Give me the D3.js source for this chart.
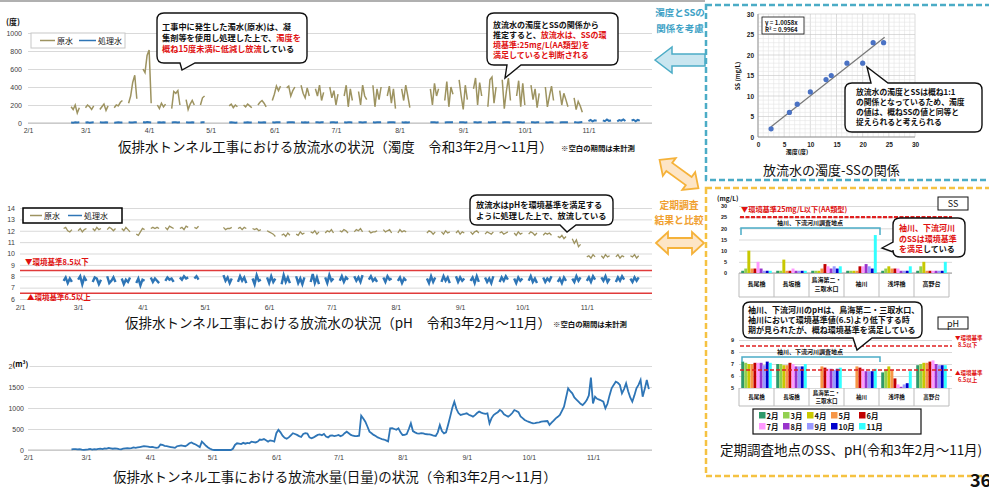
<!DOCTYPE html>
<html>
<head>
<meta charset="utf-8">
<script src="https://cdn.jsdelivr.net/npm/d3@7"></script>
<style>
  body { margin: 0; background: #fff; }
  svg { display: block; font-family: "Noto Sans CJK JP", "Noto Sans", sans-serif; }
</style>
</head>
<body>
<svg id="chart" width="989" height="487"></svg>
<script>
// ---------- data ----------
// Daily measurements, one row per week starting on Monday 2021-02-22.
// Weekday rows hold Mon–Fri, null rows are weeks without measurement.
const firstMonday = "2021-02-22";
const monthTickDates = ["2021-02-01","2021-03-01","2021-04-01","2021-05-01","2021-06-01",
                        "2021-07-01","2021-08-01","2021-09-01","2021-10-01","2021-11-01"];

// turbidity (度) of raw water
const turbidityRawWeeks = [
  [180,150,200,110,170],[170,200,180,150,190],[150,180,210,140,190],[170,200,190,230,250],
  [220,300,450,530,270],[600,560,750,810,220],[200,160,220,180,210],[160,350,330,360,200],
  [260,150,210,250,200],[200,280,300,null,null],null,[190,210,170,200,180],
  [200,180,210,190,170],[200,230,250,220,180],[250,320,410,360,410],[390,410,300,360,400],
  [420,330,280,390,300],[380,300,420,250,340],[400,280,360,200,320],[300,420,180,380,250],
  [350,200,420,300,260],[420,180,380,260,400],[300,410,220,380,160],[380,250,420,300,170],
  null,[380,200,440,300,380],[250,460,180,400,320],[480,300,150,420,260],
  [380,500,200,450,300],[180,480,510,220,400],[480,160,350,500,250],[300,470,180,440,200],
  [420,260,380,170,330],[400,180,300,410,250],[360,200,330,260,180],[280,150,240,190,120],
  null,null,null,null
];
// turbidity (度) of treated water
const turbidityTreatedWeeks = [
  [6,4,8,5,7],[5,7,4,6,8],[7,5,6,9,5],[4,6,8,5,6],[8,6,5,7,9],[9,7,10,8,6],[6,8,5,7,6],
  [5,7,9,6,8],[7,5,6,8,5],[6,8,7,null,null],null,[5,7,6,4,6],[6,5,7,6,5],[7,6,5,8,6],
  [8,6,9,7,8],[6,9,7,8,6],[7,5,8,6,9],[8,7,6,9,7],[6,8,7,5,8],[9,6,8,7,6],[7,9,6,8,7],
  [8,6,9,7,8],[6,8,7,9,6],[7,6,8,6,7],null,[8,7,9,6,8],[6,9,7,8,7],[9,7,8,6,9],
  [7,8,6,9,7],[8,6,9,7,8],[6,8,7,9,6],[9,7,8,6,8],[7,9,6,8,7],[8,6,7,9,6],[6,8,9,7,8],
  [9,7,6,8,10],[22,35,18,30,25],[30,20,38,24,28],[18,32,26,40,22],[28,36,20,34,26]
];
// pH of raw water
const phRawWeeks = [
  [12.2,12.3,12.0,11.9,12.1],[12.0,12.2,11.9,12.1,12.2],[12.2,12.0,12.3,12.1,12.2],
  [12.1,12.3,12.2,12.0,12.2],[12.2,12.0,12.3,12.1,11.9],[11.7,11.6,11.9,12.2,12.1],
  [12.2,12.3,12.2,12.3,12.2],[12.3,12.1,12.4,12.3,12.2],[12.2,12.3,12.1,12.4,12.3],
  [12.3,12.2,12.4,null,null],null,[12.3,12.1,12.2,12.2,12.3],[12.2,12.3,12.1,12.3,12.2],
  [12.2,12.1,12.2,12.0,12.1],[12.0,11.9,11.8,11.7,11.5],[11.6,11.7,11.5,11.8,11.6],
  [11.7,11.6,11.9,11.7,11.8],[11.9,11.8,12.0,11.7,11.9],[11.8,12.0,11.9,12.1,11.8],
  [12.0,11.9,12.1,12.0,11.8],[11.9,12.1,12.0,12.2,11.9],[12.0,11.8,11.9,11.9,12.0],
  [12.1,11.9,12.0,12.1,11.8],[11.8,12.1,11.9,12.0,11.9],null,[11.8,12.0,11.9,11.7,11.9],
  [11.9,11.7,12.0,11.8,11.9],[11.8,12.0,11.7,11.9,11.8],[11.9,11.7,11.9,12.0,11.8],
  [11.7,11.9,11.8,11.7,11.9],[11.8,11.9,11.7,11.8,11.9],[11.8,11.6,11.9,11.7,11.8],
  [11.7,11.9,11.8,11.6,11.8],[11.6,11.8,11.7,11.8,11.6],[11.5,11.4,11.6,11.3,11.5],
  [11.3,10.9,11.2,10.6,10.8],[9.7,9.8,9.6,9.9,9.7],[9.8,9.6,9.9,9.7,9.8],
  [9.7,9.9,9.6,9.8,9.7],[9.8,9.7,9.9,9.6,9.8]
];
// pH of treated water
const phTreatedWeeks = [
  [7.6,7.9,7.4,7.8,7.5],[7.7,8.0,7.3,7.9,7.6],[7.5,7.9,7.8,7.3,7.7],[8.0,7.4,7.6,7.9,7.5],
  [7.8,7.3,7.7,7.5,7.9],[7.4,7.8,7.2,7.7,7.6],[7.9,7.5,7.8,7.6,7.4],[7.6,7.9,7.7,7.8,7.5],
  [7.9,7.7,8.0,7.8,7.9],[7.8,8.0,7.7,null,null],null,[8.1,7.6,7.9,7.4,7.8],
  [7.5,8.0,7.6,7.9,7.4],[7.8,7.3,8.1,7.6,7.7],[7.9,7.4,8.0,7.5,7.8],[7.3,8.1,7.5,7.9,7.4],
  [8.0,7.4,7.8,7.3,7.9],[7.5,8.2,7.4,7.9,7.3],[7.9,7.4,8.1,7.6,7.8],[7.6,8.0,7.5,7.9,7.7],
  [8.0,7.6,7.9,7.5,8.1],[7.7,8.0,7.6,7.8,7.5],[7.9,7.5,8.0,7.7,7.8],[7.6,7.9,7.4,7.8,7.6],
  null,[7.8,7.4,8.0,7.5,7.9],[7.5,8.0,7.6,7.9,7.4],[8.0,7.5,7.9,7.6,7.8],[7.6,7.9,7.4,8.0,7.5],
  [7.9,7.5,7.8,7.4,8.0],[7.5,7.9,7.6,8.0,7.7],[7.8,7.4,7.9,7.6,7.8],[7.6,8.0,7.5,7.8,7.4],
  [7.9,7.5,7.8,7.6,8.0],[7.5,7.8,7.4,7.9,7.6],[7.8,7.5,8.0,7.6,7.9],[7.6,7.9,7.5,8.0,7.7],
  [7.9,7.6,8.0,7.5,7.8],[7.5,7.9,7.6,8.0,7.7],[7.8,7.5,7.9,7.6,7.9]
];
// daily discharge volume (m³), Mon–Sun
const dischargeWeeks = [
  [15,20,20,15,20,10,5],[10,15,25,10,20,15,25],[30,20,40,35,50,40,30],[40,30,20,15,30,40,45],
  [40,45,60,50,60,70,80],[90,85,80,70,75,60,50],[60,130,120,100,90,80,70],[60,50,90,100,110,100,90],
  [120,160,180,150,130,100,70],[200,150,100,60,30,10,0],[0,0,0,0,0,0,0],[0,30,120,160,150,140,170],
  [150,170,160,200,190,180,200],[250,240,260,230,200,230,220],[200,400,480,420,340,290,270],
  [300,350,400,380,360,330,310],[380,400,390,300,280,300,330],[360,370,350,380,320,300,340],
  [345,330,340,360,330,350,400],[436,400,360,340,330,333,340],[817,750,674,560,436,400,360],
  [333,300,280,260,250,230,205],[516,520,500,480,516,420,357],[360,380,500,635,450,420,397],
  [390,400,397,380,375,373,360],[340,333,420,595,450,397,420],[600,794,1000,1150,980,880,833],
  [850,860,873,840,820,794,830],[880,913,890,870,860,873,635],[760,833,870,900,952,920,850],
  [820,794,830,880,952,930,900],[800,760,714,690,670,650,635],[640,650,660,675,680,685,690],
  [595,650,700,754,790,833,930],[1032,1250,1468,1400,1349,1250,1200],[1150,1100,1071,1120,1190,1300,1722],
  [1110,1270,1220,1200,1180,1150,992],[1100,1300,1468,1550,1627,1600,1548],[1349,1450,1587,1400,1250,1150,1300],
  [1468,1550,1667,1270,1450,1667,1450]
];

// turbidity vs SS
const scatterTurbidity = [2.5, 6, 7.5, 10, 13, 14, 17, 20, 22, 24];
const scatterSS        = [2, 6, 8, 11, 14, 15, 18, 18, 23, 23];
const regressionSlope = 1.0058;

// periodic survey sites
const sites = ["長尾橋", "長坂橋", "鳥海第二・三取水口", "袖川", "浅坪橋", "高野台"];
const months = ["2月","3月","4月","5月","6月","7月","8月","9月","10月","11月"];
const monthColors = ["#2f9a6a","#92d050","#c8c800","#f79646","#c00000",
                     "#ff99ff","#9933cc","#9999ff","#0000cc","#33ffff"];
const ssBySite = [
  [1, 2, 10, 2, 2, 5, 2, 1, 1, 1],
  [1, 1, 6, 1, 1, 2, 1, 1, 1, 1],
  [1, 1, 1, 2, 4, 3, 2, 3, 2, 3],
  [1, 1, 1, 1, 3, 3, 4, 3, 2, 17],
  [1, 2, 3, 2, 2, 2, 1, 1, 1, 3],
  [1, 3, 5, 1, 1, 1, 1, 1, 1, 5]
];
const phBySite = [
  [7.2, 7.1, 7.0, 7.0, 7.1, 7.1, 7.1, 6.9, 7.2, 7.1],
  [7.0, 7.0, 6.9, 6.9, 7.1, 7.0, 6.8, 6.8, 6.8, 7.0],
  [null, null, null, 6.8, 6.7, 6.6, 6.6, 6.5, 6.6, 6.7],
  [null, null, null, 6.8, 6.7, 6.6, 6.4, 6.4, 6.4, 6.6],
  [6.3, 6.5, 6.8, 6.5, 5.8, 5.3, 5.1, 5.3, 5.4, 6.4],
  [6.9, 7.0, 7.1, 7.1, 7.2, 7.3, 7.0, 6.9, 6.9, 6.9]
];

// ---------- helpers ----------
const svg = d3.select("#chart");
const parse = d3.timeParse("%Y-%m-%d");
const start = parse(firstMonday);
const xDomain = [parse("2021-02-01"), parse("2021-11-30")];
const monthTicks = monthTickDates.map(parse);
const fmtTick = d3.timeFormat("%-m/%-d");
const fmtInt = d3.format("d");
const RAW = "#9d9360", BLUE = "#2e75b6", RED = "#e01010", BLACK = "#111";

function weekSegments(rows) {
  return rows.map((row, w) => row
      ? row.map((v, d) => ({ date: d3.timeDay.offset(start, w * 7 + d), v }))
      : null).filter(Boolean);
}
function dailySeries(rows) {
  return rows.flatMap((row, w) => row.map((v, d) => ({ date: d3.timeDay.offset(start, w * 7 + d), v })));
}
function styleAxis(g, size, color) {
  g.select(".domain").remove();
  g.selectAll(".tick line").attr("stroke", "#d9d9d9");
  g.selectAll(".tick text").attr("font-size", size).attr("fill", color || "#404040")
    .attr("font-family", "inherit");
}
function text(g, x, y, str, opt = {}) {
  return g.append("text").attr("x", x).attr("y", y).text(str)
    .attr("font-size", opt.size || 8).attr("font-weight", opt.weight || "bold")
    .attr("fill", opt.fill || BLACK).attr("text-anchor", opt.anchor || "start");
}
function richLines(g, x, y0, dy, lines, size) {
  lines.forEach((parts, i) => {
    const t = g.append("text").attr("x", x).attr("y", y0 + i * dy)
      .attr("font-size", size).attr("font-weight", "bold");
    parts.forEach(([s, c]) => t.append("tspan").text(s).attr("fill", c === "r" ? RED : BLACK));
  });
}
function calloutPath(x, y, w, h, r, t) {
  let p = `M${x + r},${y}`;
  if (t.side === "top") p += `L${t.a},${y}L${t.tx},${t.ty}L${t.b},${y}`;
  p += `L${x + w - r},${y}Q${x + w},${y} ${x + w},${y + r}`;
  p += `L${x + w},${y + h - r}Q${x + w},${y + h} ${x + w - r},${y + h}`;
  if (t.side === "bottom") p += `L${t.b},${y + h}L${t.tx},${t.ty}L${t.a},${y + h}`;
  p += `L${x + r},${y + h}Q${x},${y + h} ${x},${y + h - r}`;
  if (t.side === "left") p += `L${x},${t.b}L${t.tx},${t.ty}L${x},${t.a}`;
  p += `L${x},${y + r}Q${x},${y} ${x + r},${y}Z`;
  return p;
}
function callout(x, y, w, h, tail) {
  svg.append("path").attr("d", calloutPath(x, y, w, h, 7, tail))
    .attr("fill", "#fff").attr("stroke", "#111").attr("stroke-width", 1.4);
}
function legendBox(g, x, y, w, h, stroke, lx) {
  g.append("rect").attr("x", x).attr("y", y).attr("width", w).attr("height", h)
    .attr("fill", "#fff").attr("stroke", stroke).attr("stroke-width", stroke === "#000" ? 1.5 : 1);
  const cy = y + h / 2;
  g.append("line").attr("x1", lx[0]).attr("x2", lx[1]).attr("y1", cy).attr("y2", cy)
    .attr("stroke", RAW).attr("stroke-width", 1.5);
  text(g, lx[1] + 2, cy + 3, "原水", { size: 8, weight: "normal" });
  g.append("line").attr("x1", lx[2]).attr("x2", lx[3]).attr("y1", cy).attr("y2", cy)
    .attr("stroke", BLUE).attr("stroke-width", 1.5);
  text(g, lx[3] + 2, cy + 3, "処理水", { size: 8, weight: "normal" });
}

// top rule
svg.append("line").attr("x1", 0).attr("x2", 705).attr("y1", 1).attr("y2", 1)
  .attr("stroke", "#b0b0b0").attr("stroke-width", 2);

// ---------- chart 1 : turbidity ----------
{
  const g = svg.append("g");
  const x = d3.scaleTime().domain(xDomain).range([28, 648]);
  const y = d3.scaleLinear().domain([0, 1000]).range([123, 33]);
  g.append("g").attr("transform", "translate(28,0)")
    .call(d3.axisLeft(y).tickValues(d3.range(0, 1001, 200)).tickFormat(fmtInt).tickSize(-624).tickPadding(6))
    .call(a => styleAxis(a, 7));
  g.append("line").attr("x1", 28).attr("x2", 652).attr("y1", y(0)).attr("y2", y(0)).attr("stroke", "#bdbdbd");
  g.append("g").attr("transform", `translate(0,${y(0)})`)
    .call(d3.axisBottom(x).tickValues(monthTicks).tickFormat(fmtTick).tickSize(0).tickPadding(5))
    .call(a => styleAxis(a, 7));
  text(g, 6, 25, "(度)", { size: 8 });
  const line = d3.line().defined(d => d.v != null).x(d => x(d.date)).y(d => y(d.v));
  g.selectAll(".raw").data(weekSegments(turbidityRawWeeks)).join("path")
    .attr("d", line).attr("fill", "none").attr("stroke", RAW).attr("stroke-width", 1.5);
  g.selectAll(".trt").data(weekSegments(turbidityTreatedWeeks)).join("path")
    .attr("d", line).attr("fill", "none").attr("stroke", BLUE).attr("stroke-width", 2);
  legendBox(g, 31, 33, 94, 15, "#c8c8c8", [40, 55, 79, 96]);
  text(g, 118, 152, "仮排水トンネル工事における放流水の状況（濁度　令和3年2月～11月）", { size: 13.5, weight: "normal" });
  text(g, 561, 151, "※空白の期間は未計測", { size: 7.4 });
}

// ---------- chart 2 : pH ----------
{
  const g = svg.append("g");
  const x = d3.scaleTime().domain(xDomain).range([20, 647]);
  const y = d3.scaleLinear().domain([6, 14]).range([299, 208]);
  g.append("g").attr("transform", "translate(20,0)")
    .call(d3.axisLeft(y).tickValues(d3.range(6, 15, 1)).tickFormat(fmtInt).tickSize(-632).tickPadding(5))
    .call(a => styleAxis(a, 7));
  g.append("g").attr("transform", `translate(0,${y(6)})`)
    .call(d3.axisBottom(x).tickValues(monthTicks).tickFormat(fmtTick).tickSize(0).tickPadding(6))
    .call(a => styleAxis(a, 7));
  [8.5, 6.5].forEach(v => g.append("line").attr("x1", 20).attr("x2", 652)
    .attr("y1", y(v)).attr("y2", y(v)).attr("stroke", "#e03a3a").attr("stroke-width", 1.6));
  text(g, 25, 265, "▼環境基準8.5以下", { size: 7.5, fill: RED });
  text(g, 27, 300, "▲環境基準6.5以上", { size: 7.5, fill: RED });
  const line = d3.line().defined(d => d.v != null).x(d => x(d.date)).y(d => y(d.v));
  g.selectAll(".raw").data(weekSegments(phRawWeeks)).join("path")
    .attr("d", line).attr("fill", "none").attr("stroke", RAW).attr("stroke-width", 1.3);
  g.selectAll(".trt").data(weekSegments(phTreatedWeeks)).join("path")
    .attr("d", line).attr("fill", "none").attr("stroke", BLUE).attr("stroke-width", 2.4);
  legendBox(g, 23, 208, 99, 15, "#000", [30, 42, 68, 82]);
  text(g, 125, 328, "仮排水トンネル工事における放流水の状況（pH　令和3年2月～11月）", { size: 13.5, weight: "normal" });
  text(g, 553, 327, "※空白の期間は未計測", { size: 7.4 });
}

// ---------- chart 3 : daily discharge ----------
{
  const g = svg.append("g");
  const x = d3.scaleTime().domain(xDomain).range([28, 653]);
  const y = d3.scaleLinear().domain([0, 2000]).range([450, 366]);
  g.append("g").attr("transform", "translate(28,0)")
    .call(d3.axisLeft(y).tickValues(d3.range(0, 2001, 500)).tickFormat(fmtInt).tickSize(-624).tickPadding(4))
    .call(a => styleAxis(a, 7));
  g.append("line").attr("x1", 28).attr("x2", 652).attr("y1", y(0)).attr("y2", y(0)).attr("stroke", "#bdbdbd");
  g.append("g").attr("transform", `translate(0,${y(0)})`)
    .call(d3.axisBottom(x).tickValues(monthTicks).tickFormat(fmtTick).tickSize(0).tickPadding(5))
    .call(a => styleAxis(a, 7));
  // unit label sits over the top tick label, leaving only its leading digit visible
  g.append("rect").attr("x", 12.5).attr("y", 359).attr("width", 17).attr("height", 10).attr("fill", "#fff");
  const unit = g.append("text").attr("x", 12.5).attr("y", 367).attr("font-size", 7.5).attr("font-weight", "bold");
  unit.append("tspan").text("(m");
  unit.append("tspan").text("3").attr("font-size", 5).attr("dy", -3);
  unit.append("tspan").text(")").attr("dy", 3);
  const line = d3.line().x(d => x(d.date)).y(d => y(d.v));
  g.append("path").datum(dailySeries(dischargeWeeks)).attr("d", line)
    .attr("fill", "none").attr("stroke", BLUE).attr("stroke-width", 1.8);
  text(g, 113, 482, "仮排水トンネル工事における放流水量(日量)の状況（令和3年2月～11月）", { size: 13.5, weight: "normal" });
}

// ---------- callouts on the time series ----------
callout(157, 13, 150, 50, { side: "bottom", a: 180, b: 195, tx: 182, ty: 70 });
richLines(svg, 162, 30, 10.8, [
  [["工事中に発生した濁水(原水)は、凝", "k"]],
  [["集剤等を使用し処理した上で、", "k"], ["濁度を", "r"]],
  [["概ね15度未満に低減し放流", "r"], ["している", "k"]]
], 8.2);
callout(487, 13, 131, 52, { side: "bottom", a: 507, b: 521, tx: 505, ty: 78 });
richLines(svg, 493, 28, 10, [
  [["放流水の濁度とSSの関係から", "k"]],
  [["推定すると、", "k"], ["放流水は、SSの環", "r"]],
  [["境基準:25mg/L(AA類型)を", "r"]],
  [["満足していると判断される", "r"]]
], 8);
callout(470, 195, 143, 30, { side: "bottom", a: 560, b: 576, tx: 567, ty: 232 });
richLines(svg, 476, 208, 11, [
  [["放流水はpHを環境基準を満足する", "k"]],
  [["ように処理した上で、放流している", "k"]]
], 8.2);

// ---------- connectors between panels ----------
text(svg, 680, 16, "濁度とSSの", { size: 9.5, fill: "#3ea2c6", anchor: "middle" });
text(svg, 680, 32, "関係を考慮", { size: 9.5, fill: "#3ea2c6", anchor: "middle" });
svg.append("path").attr("d", "M655,60L672,47L672,54L705,54L705,66L672,66L672,73Z")
  .attr("fill", "#c9e6f0").attr("stroke", "#4bacc6").attr("stroke-width", 1.5);
text(svg, 679, 209, "定期調査", { size: 9.8, fill: "#f0a030", anchor: "middle" });
text(svg, 679, 224, "結果と比較", { size: 9.8, fill: "#f0a030", anchor: "middle" });
const dbl = "M-24,0L-12,-11L-12,-5L12,-5L12,-11L24,0L12,11L12,5L-12,5L-12,11Z";
svg.append("path").attr("d", dbl).attr("transform", "translate(680,243)")
  .attr("fill", "#fde5c6").attr("stroke", "#f5b23a").attr("stroke-width", 1.8);
svg.append("path").attr("d", dbl).attr("transform", "translate(679,174) rotate(36)")
  .attr("fill", "#fde5c6").attr("stroke", "#f5b23a").attr("stroke-width", 1.8);

// ---------- turbidity vs SS scatter ----------
svg.append("rect").attr("x", 706).attr("y", 5).attr("width", 300).attr("height", 175)
  .attr("fill", "none").attr("stroke", "#4bacc6").attr("stroke-width", 2.5).attr("stroke-dasharray", "6,3");
{
  const g = svg.append("g");
  const x = d3.scaleLinear().domain([0, 30]).range([758, 915]);
  const y = d3.scaleLinear().domain([0, 30]).range([137, 14]);
  g.selectAll(".vminor").data(d3.range(0, 31)).join("line")
    .attr("x1", d => x(d)).attr("x2", d => x(d)).attr("y1", y(0)).attr("y2", y(30))
    .attr("stroke", d => d % 5 ? "#e4e4e4" : "#c4c4c4").attr("stroke-width", 0.6);
  g.selectAll(".hminor").data(d3.range(0, 31)).join("line")
    .attr("x1", x(0)).attr("x2", x(30)).attr("y1", d => y(d)).attr("y2", d => y(d))
    .attr("stroke", d => d % 5 ? "#e4e4e4" : "#c4c4c4").attr("stroke-width", 0.6);
  g.append("g").attr("transform", `translate(${x(0)},0)`)
    .call(d3.axisLeft(y).tickValues(d3.range(0, 31, 5)).tickSize(0).tickPadding(4))
    .call(a => { styleAxis(a, 6.5, "#222"); a.selectAll("text").attr("font-weight", "bold"); });
  g.append("g").attr("transform", `translate(0,${y(0)})`)
    .call(d3.axisBottom(x).tickValues(d3.range(0, 31, 5)).tickSize(0).tickPadding(5))
    .call(a => { styleAxis(a, 6.5, "#222"); a.selectAll("text").attr("font-weight", "bold"); });
  g.append("line").attr("x1", x(0)).attr("x2", x(30)).attr("y1", y(0)).attr("y2", y(0)).attr("stroke", "#999");
  g.append("line").attr("x1", x(0)).attr("x2", x(0)).attr("y1", y(0)).attr("y2", y(30)).attr("stroke", "#999");
  g.append("line").attr("x1", x(2.5)).attr("x2", x(24.2))
    .attr("y1", y(2.5 * regressionSlope)).attr("y2", y(24.2 * regressionSlope))
    .attr("stroke", "#777").attr("stroke-width", 1.2);
  g.selectAll("circle").data(scatterTurbidity).join("circle")
    .attr("cx", d => x(d)).attr("cy", (d, i) => y(scatterSS[i])).attr("r", 2.6).attr("fill", "#4a72c4");
  g.append("rect").attr("x", 762).attr("y", 17).attr("width", 42).attr("height", 17)
    .attr("fill", "#fff").attr("stroke", "#111").attr("stroke-width", 0.8);
  text(g, 765, 24.5, "y = 1.0058x", { size: 6 });
  text(g, 765, 32, "R² = 0.9964", { size: 6 });
  text(g, 0, 0, "SS (mg/L)", { size: 6, anchor: "middle" }).attr("transform", "translate(740,76) rotate(-90)");
  text(g, 797, 154, "濁度(度)", { size: 6, anchor: "middle" });
  text(g, 763, 175, "放流水の濁度-SSの関係", { size: 13, weight: "normal" });
}
callout(845, 83, 137, 49, { side: "top", a: 871, b: 888, tx: 867, ty: 67 });
richLines(svg, 856, 95, 10, [
  [["放流水の濁度とSSは概ね1:1", "k"]],
  [["の関係となっているため、濁度", "k"]],
  [["の値は、概ねSSの値と同等と", "k"]],
  [["捉えられると考えられる", "k"]]
], 7.8);

// ---------- periodic survey: SS and pH by site ----------
svg.append("rect").attr("x", 706).attr("y", 188).attr("width", 300).attr("height", 288)
  .attr("fill", "none").attr("stroke", "#f5c242").attr("stroke-width", 2.5).attr("stroke-dasharray", "6,3");
const xSite = d3.scaleBand().domain(sites).range([739, 949]).paddingInner(0.12).paddingOuter(0.06);
const xMonth = d3.scaleBand().domain(months).range([0, xSite.bandwidth()]).padding(0.04);
function siteTable(g, top, bottom, twoLineY, lineGap, oneLineY, size) {
  const edges = sites.map(s => xSite(s) - xSite.step() * xSite.paddingInner() / 2);
  edges.push(949);
  g.selectAll(".sep").data(edges).join("line")
    .attr("x1", d => d).attr("x2", d => d).attr("y1", top).attr("y2", bottom).attr("stroke", "#bbb");
  g.append("line").attr("x1", 739).attr("x2", 949).attr("y1", bottom).attr("y2", bottom).attr("stroke", "#bbb");
  sites.forEach(s => {
    const cx = xSite(s) + xSite.bandwidth() / 2;
    if (s.length > 5) {
      text(g, cx, twoLineY, s.slice(0, 5), { size, anchor: "middle" });
      text(g, cx, twoLineY + lineGap, s.slice(5), { size, anchor: "middle" });
    } else text(g, cx, oneLineY, s, { size, anchor: "middle" });
  });
}
{
  const g = svg.append("g");
  const y = d3.scaleLinear().domain([0, 30]).range([273, 206]);
  g.append("g").attr("transform", "translate(739,0)")
    .call(d3.axisLeft(y).tickValues(d3.range(0, 31, 5)).tickSize(-213).tickPadding(12))
    .call(a => { styleAxis(a, 5.5, "#222"); a.selectAll("text").attr("font-weight", "bold"); });
  text(g, 717, 201, "(mg/L)", { size: 6.5 });
  g.append("line").attr("x1", 739).attr("x2", 952).attr("y1", y(0)).attr("y2", y(0)).attr("stroke", "#999");
  g.append("line").attr("x1", 740).attr("x2", 952).attr("y1", y(25)).attr("y2", y(25))
    .attr("stroke", "#e02020").attr("stroke-width", 2.4).attr("stroke-dasharray", "4,1.5");
  text(g, 741, 212, "▼環境基準25mg/L以下(AA類型)", { size: 7.2, fill: RED });
  sites.forEach((s, si) => {
    g.selectAll(null).data(ssBySite[si]).join("rect")
      .attr("x", (d, i) => xSite(s) + xMonth(months[i])).attr("width", xMonth.bandwidth())
      .attr("y", d => y(d)).attr("height", d => y(0) - y(d))
      .attr("fill", (d, i) => monthColors[i]);
  });
  siteTable(g, 273, 297, 282, 9, 286, 6);
  g.append("path").attr("d", "M741,235V228H880V235").attr("fill", "none")
    .attr("stroke", "#4bacc6").attr("stroke-width", 1.5);
  text(g, 810, 225, "袖川、下流河川調査地点", { size: 6, anchor: "middle" });
  g.append("rect").attr("x", 938).attr("y", 197).attr("width", 30).attr("height", 13)
    .attr("fill", "#fff").attr("stroke", "#111");
  text(g, 953, 207, "SS", { size: 9, weight: "normal", anchor: "middle" });
}
callout(893, 218, 72, 39, { side: "left", a: 242, b: 252, tx: 882, ty: 248 });
richLines(svg, 899, 231, 10.5, [
  [["袖川、下流河川", "r"]],
  [["のSSは環境基準", "r"]],
  [["を満足", "r"], ["している", "k"]]
], 8);
{
  const g = svg.append("g");
  const y = d3.scaleLinear().domain([5, 9]).range([388, 340]);
  g.append("g").attr("transform", "translate(739,0)")
    .call(d3.axisLeft(y).tickValues(d3.range(5, 10, 1)).tickFormat(fmtInt).tickSize(-213).tickPadding(5))
    .call(a => { styleAxis(a, 5.5, "#222"); a.selectAll("text").attr("font-weight", "bold"); });
  sites.forEach((s, si) => {
    g.selectAll(null).data(phBySite[si].map((v, i) => ({ v, i })).filter(d => d.v != null)).join("rect")
      .attr("x", d => xSite(s) + xMonth(months[d.i])).attr("width", xMonth.bandwidth())
      .attr("y", d => y(d.v)).attr("height", d => y(5) - y(d.v))
      .attr("fill", d => monthColors[d.i]);
  });
  [8.5, 6.5].forEach(v => g.append("line").attr("x1", 740).attr("x2", 952)
    .attr("y1", y(v)).attr("y2", y(v)).attr("stroke", "#e02020").attr("stroke-width", 1.5)
    .attr("stroke-dasharray", "4,2"));
  text(g, 955, 340, "▼環境基準", { size: 5.5, fill: RED });
  text(g, 958, 347, "8.5以下", { size: 5.5, fill: RED });
  text(g, 955, 375, "▲環境基準", { size: 5.5, fill: RED });
  text(g, 958, 382, "6.5以上", { size: 5.5, fill: RED });
  siteTable(g, 388, 406, 394.5, 8, 399, 5.5);
  g.append("path").attr("d", "M742,362V357H880V362").attr("fill", "none")
    .attr("stroke", "#4bacc6").attr("stroke-width", 1.5);
  text(g, 810, 354, "袖川、下流河川調査地点", { size: 6, anchor: "middle" });
  g.append("rect").attr("x", 938).attr("y", 317).attr("width", 30).attr("height", 12)
    .attr("fill", "#fff").attr("stroke", "#111");
  text(g, 953, 326.5, "pH", { size: 9, weight: "normal", anchor: "middle" });

  // month legend, two rows of five
  g.append("rect").attr("x", 753).attr("y", 409).attr("width", 168).attr("height", 25)
    .attr("fill", "#fff").attr("stroke", "#111").attr("stroke-width", 1.2);
  const legendCols = [759, 783, 807, 831, 859];
  months.forEach((m, i) => {
    const lx = legendCols[i % 5], ly = 412 + Math.floor(i / 5) * 11;
    g.append("rect").attr("x", lx).attr("y", ly).attr("width", 6.5).attr("height", 6.5).attr("fill", monthColors[i]);
    text(g, lx + 7.5, ly + 6.5, m, { size: 7.5 });
  });
  text(g, 720, 455, "定期調査地点のSS、pH(令和3年2月～11月)", { size: 13.5, weight: "normal" });
}
callout(743, 302, 179, 36, { side: "bottom", a: 853, b: 872, tx: 857, ty: 350 });
richLines(svg, 748, 313, 10, [
  [["袖川、下流河川のpHは、鳥海第二・三取水口、", "k"]],
  [["袖川において環境基準値(6.5)より低下する時", "k"]],
  [["期が見られたが、概ね環境基準を満足している", "k"]]
], 8);

text(svg, 970, 487, "36", { size: 18 });
</script>
</body>
</html>
